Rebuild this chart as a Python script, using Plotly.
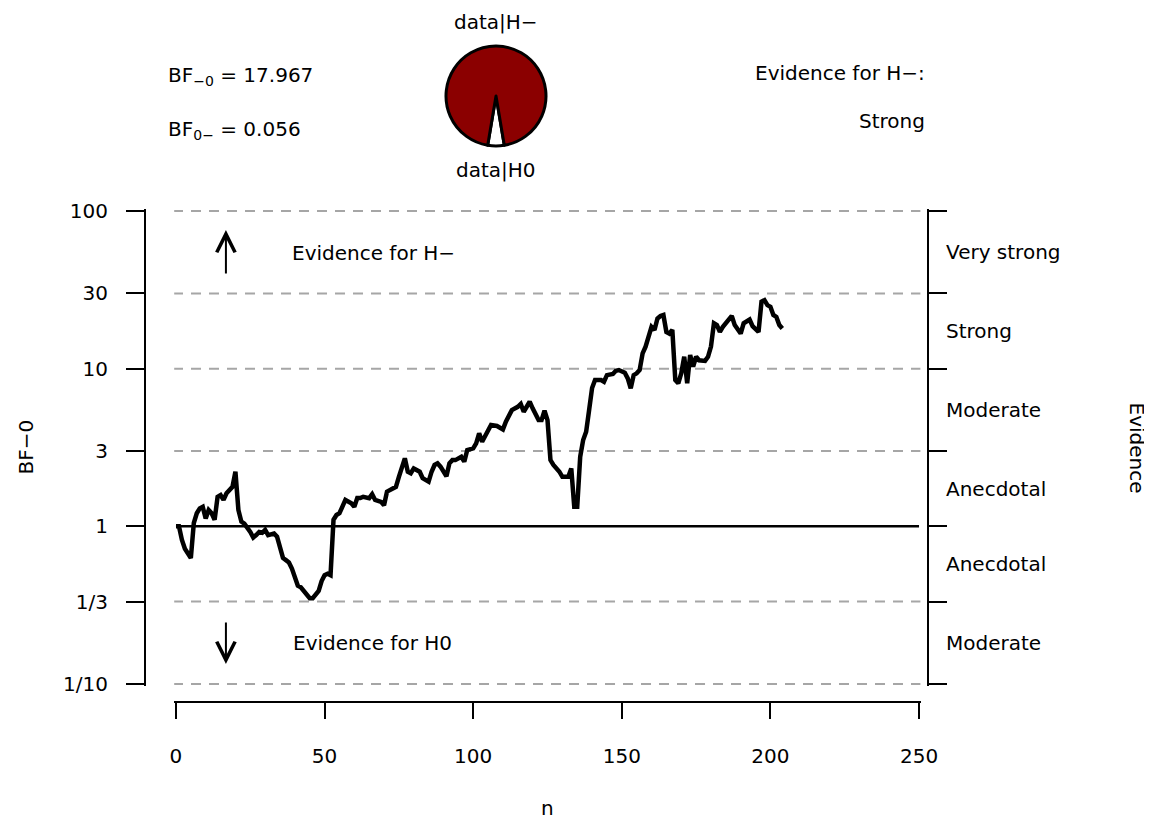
# sequential Bayes factor plot (robustness style) with evidence pie
import math
import plotly.graph_objects as go

# sample size and BF-0
n = [0, 1, 2, 3, 5, 6, 7, 8, 9, 10,
     11, 12, 13, 14, 15, 16, 17, 18, 19, 20,
     21, 22, 23, 25, 26, 27, 28, 29, 30, 31,
     33, 34, 35, 36, 37, 38, 39, 40, 41, 42,
     43, 44, 45, 46, 47, 48, 49, 50, 51, 52,
     53, 54, 55, 56, 57, 59, 60, 61, 62, 63,
     65, 66, 67, 69, 70, 71, 73, 74, 75, 77,
     78, 79, 80, 82, 83, 85, 86, 87, 88, 89,
     91, 92, 93, 94, 96, 97, 98, 100, 101, 102,
     103, 105, 106, 108, 110, 111, 113, 115, 116, 117,
     119, 120, 121, 122, 123, 124, 125, 126, 127, 129,
     130, 131, 132, 133, 134, 135, 136, 137, 138, 139,
     140, 141, 143, 144, 145, 147, 148, 149, 151, 152,
     153, 154, 155, 156, 157, 158, 159, 160, 161, 162,
     163, 164, 165, 166, 167, 168, 169, 170, 171, 172,
     173, 174, 175, 176, 178, 179, 180, 181, 182, 183,
     184, 185, 187, 188, 190, 191, 192, 193, 194, 196,
     197, 198, 199, 200, 201, 202, 203, 204]
bf_m0 = [1.00, 1.00, 0.82, 0.72, 0.63, 1.05, 1.21, 1.30, 1.33, 1.12,
         1.27, 1.21, 1.10, 1.54, 1.58, 1.47, 1.62, 1.70, 1.78, 2.22,
         1.27, 1.07, 1.04, 0.92, 0.85, 0.88, 0.92, 0.91, 0.95, 0.88,
         0.90, 0.86, 0.74, 0.63, 0.61, 0.59, 0.54, 0.48, 0.42, 0.41,
         0.39, 0.37, 0.35, 0.35, 0.37, 0.39, 0.45, 0.49, 0.50, 0.49,
         1.10, 1.18, 1.21, 1.33, 1.47, 1.40, 1.33, 1.51, 1.51, 1.54,
         1.51, 1.60, 1.47, 1.43, 1.36, 1.66, 1.72, 1.78, 2.06, 2.70,
         2.22, 2.17, 2.33, 2.22, 2.02, 1.92, 2.22, 2.45, 2.51, 2.39,
         2.08, 2.51, 2.63, 2.63, 2.76, 2.57, 3.05, 3.12, 3.36, 3.89,
         3.44, 3.98, 4.39, 4.33, 4.12, 4.61, 5.46, 5.73, 5.97, 5.33,
         6.17, 5.60, 5.08, 4.72, 4.72, 5.41, 4.72, 2.63, 2.45, 2.22,
         2.06, 2.05, 2.06, 2.33, 1.33, 1.33, 2.76, 3.53, 3.98, 5.46,
         7.54, 8.47, 8.47, 8.26, 9.10, 9.25, 9.70, 9.80, 9.42, 8.67,
         7.50, 9.10, 9.34, 9.80, 12.5, 13.8, 16.3, 18.4, 17.6, 20.8,
         21.6, 21.9, 17.1, 16.7, 17.6, 8.47, 8.07, 9.34, 11.9, 8.07,
         12.2, 10.3, 11.9, 11.3, 11.2, 11.9, 13.8, 19.4, 18.9, 17.1,
         18.4, 19.4, 21.6, 18.9, 16.7, 19.4, 19.8, 20.5, 18.6, 17.1,
         26.6, 27.2, 25.3, 24.7, 21.9, 21.3, 18.9, 17.97]

bf_final = 17.967
bf_0m = 0.056

# evidence categories
y_ticks = [0.1, 1/3, 1, 3, 10, 30, 100]
y_ticktext = ["1/10", "1/3", "1", "3", "10", "30", "100"]
dash_levels = [0.1, 1/3, 3, 10, 30, 100]
cat_labels = ["Moderate", "Anecdotal", "Anecdotal", "Moderate", "Strong", "Very strong"]
x_ticks = [0, 50, 100, 150, 200, 250]

W, H = 1152, 819
OFF = 8  # page body margin
FONT = "DejaVu Sans"
FS = 20

def px(x):
    return (x - OFF) / W

def py(y):
    return (H - (y - OFF)) / H

fig = go.Figure()

for lv in dash_levels:
    fig.add_trace(go.Scatter(x=[-1, 250.5], y=[lv, lv], mode="lines",
                             line=dict(color="#a6a6a6", width=2, dash="10px,8px"),
                             hoverinfo="skip", showlegend=False))

fig.add_trace(go.Scatter(x=[0, 250], y=[1, 1], mode="lines", yaxis="y2",
                         line=dict(color="black", width=2.5),
                         hoverinfo="skip", showlegend=False))

fig.add_trace(go.Scatter(x=n, y=bf_m0, mode="lines",
                         line=dict(color="black", width=4.5),
                         showlegend=False))

# pie: data|H0 (white) vs data|H- (dark red)
p0 = bf_0m / (1 + bf_0m)
fig.add_trace(go.Pie(values=[bf_0m, 1], labels=["data|H0", "data|H-"], sort=False,
                     direction="clockwise", rotation=180 - p0 * 180,
                     marker=dict(colors=["white", "#8b0000"], line=dict(color="black", width=3)),
                     textinfo="none", hoverinfo="skip", showlegend=False,
                     domain=dict(x=[px(446), px(546)], y=[py(146), py(46)])))

lo, hi = -1.0127, 2.0127
axis_common = dict(showline=True, linecolor="black", linewidth=2,
                   ticks="outside", tickwidth=2, tickcolor="black",
                   showgrid=False, zeroline=False, automargin=False)
fig.update_layout(
    template="none",
    width=W, height=H, autosize=False,
    margin=dict(l=0, r=0, t=0, b=0, pad=0),
    paper_bgcolor="white", plot_bgcolor="white",
    font=dict(family=FONT, size=FS, color="black"),
    xaxis=dict(domain=[px(174.2), px(920.8)], range=[-0.6, 250.6],
               anchor="free", position=py(702), ticklen=16,
               tickvals=x_ticks, ticklabelstandoff=20, **axis_common),
    yaxis=dict(type="log", range=[lo, hi], domain=[py(686), py(209)],
               anchor="free", position=px(145), ticklen=18,
               tickvals=y_ticks, ticktext=y_ticktext, ticklabelstandoff=14,
               **axis_common),
    yaxis2=dict(type="log", range=[lo, hi], overlaying="y", side="right",
                anchor="free", position=px(928), ticklen=18,
                tickvals=y_ticks, showticklabels=False, **axis_common),
)

ann = []
# category labels to the right, between ticks
for lab, a, b in zip(cat_labels, y_ticks[:-1], y_ticks[1:]):
    ann.append(dict(x=px(944), xref="paper", y=(math.log10(a) + math.log10(b)) / 2, yref="y",
                    text=lab, xanchor="left", yanchor="middle", showarrow=False))

ann += [
    dict(x=px(1137), xref="paper", y=0.5, yref="y", text="Evidence",
         textangle=90, xanchor="center", yanchor="middle", showarrow=False),
    dict(x=px(25), xref="paper", y=0.5, yref="y", text="BF−0",
         textangle=-90, xanchor="center", yanchor="middle", showarrow=False),
    dict(x=125, xref="x", y=py(808), yref="paper", text="n",
         xanchor="center", yanchor="middle", showarrow=False),
    # arrows inside plot
    dict(x=16.8, y=1.879, xref="x", yref="y", ax=16.8, ay=1.594, axref="x", ayref="y",
         text="", showarrow=True, arrowhead=5, arrowsize=1.8, arrowwidth=2, arrowcolor="black"),
    dict(x=16.8, y=-0.873, xref="x", yref="y", ax=16.8, ay=-0.600, axref="x", ayref="y",
         text="", showarrow=True, arrowhead=5, arrowsize=1.8, arrowwidth=2, arrowcolor="black"),
    dict(x=38.4, y=1.733, xref="x", yref="y", text="Evidence for H−",
         xanchor="left", yanchor="middle", showarrow=False),
    dict(x=38.7, y=-0.740, xref="x", yref="y", text="Evidence for H0",
         xanchor="left", yanchor="middle", showarrow=False),
    # header texts
    dict(x=px(166), y=py(76), xref="paper", yref="paper",
         text="BF<sub>−0</sub> = %.3f" % bf_final, xanchor="left", yanchor="middle",
         showarrow=False),
    dict(x=px(166), y=py(130), xref="paper", yref="paper",
         text="BF<sub>0−</sub> = %.3f" % bf_0m, xanchor="left", yanchor="middle",
         showarrow=False),
    dict(x=px(496), y=py(22), xref="paper", yref="paper", text="data|H−",
         xanchor="center", yanchor="middle", showarrow=False),
    dict(x=px(496), y=py(170), xref="paper", yref="paper", text="data|H0",
         xanchor="center", yanchor="middle", showarrow=False),
    dict(x=px(927), y=py(73), xref="paper", yref="paper", text="Evidence for H−:",
         xanchor="right", yanchor="middle", showarrow=False),
    dict(x=px(927), y=py(121), xref="paper", yref="paper", text="Strong",
         xanchor="right", yanchor="middle", showarrow=False),
]
fig.update_layout(annotations=ann)

fig.write_html("out.html")
